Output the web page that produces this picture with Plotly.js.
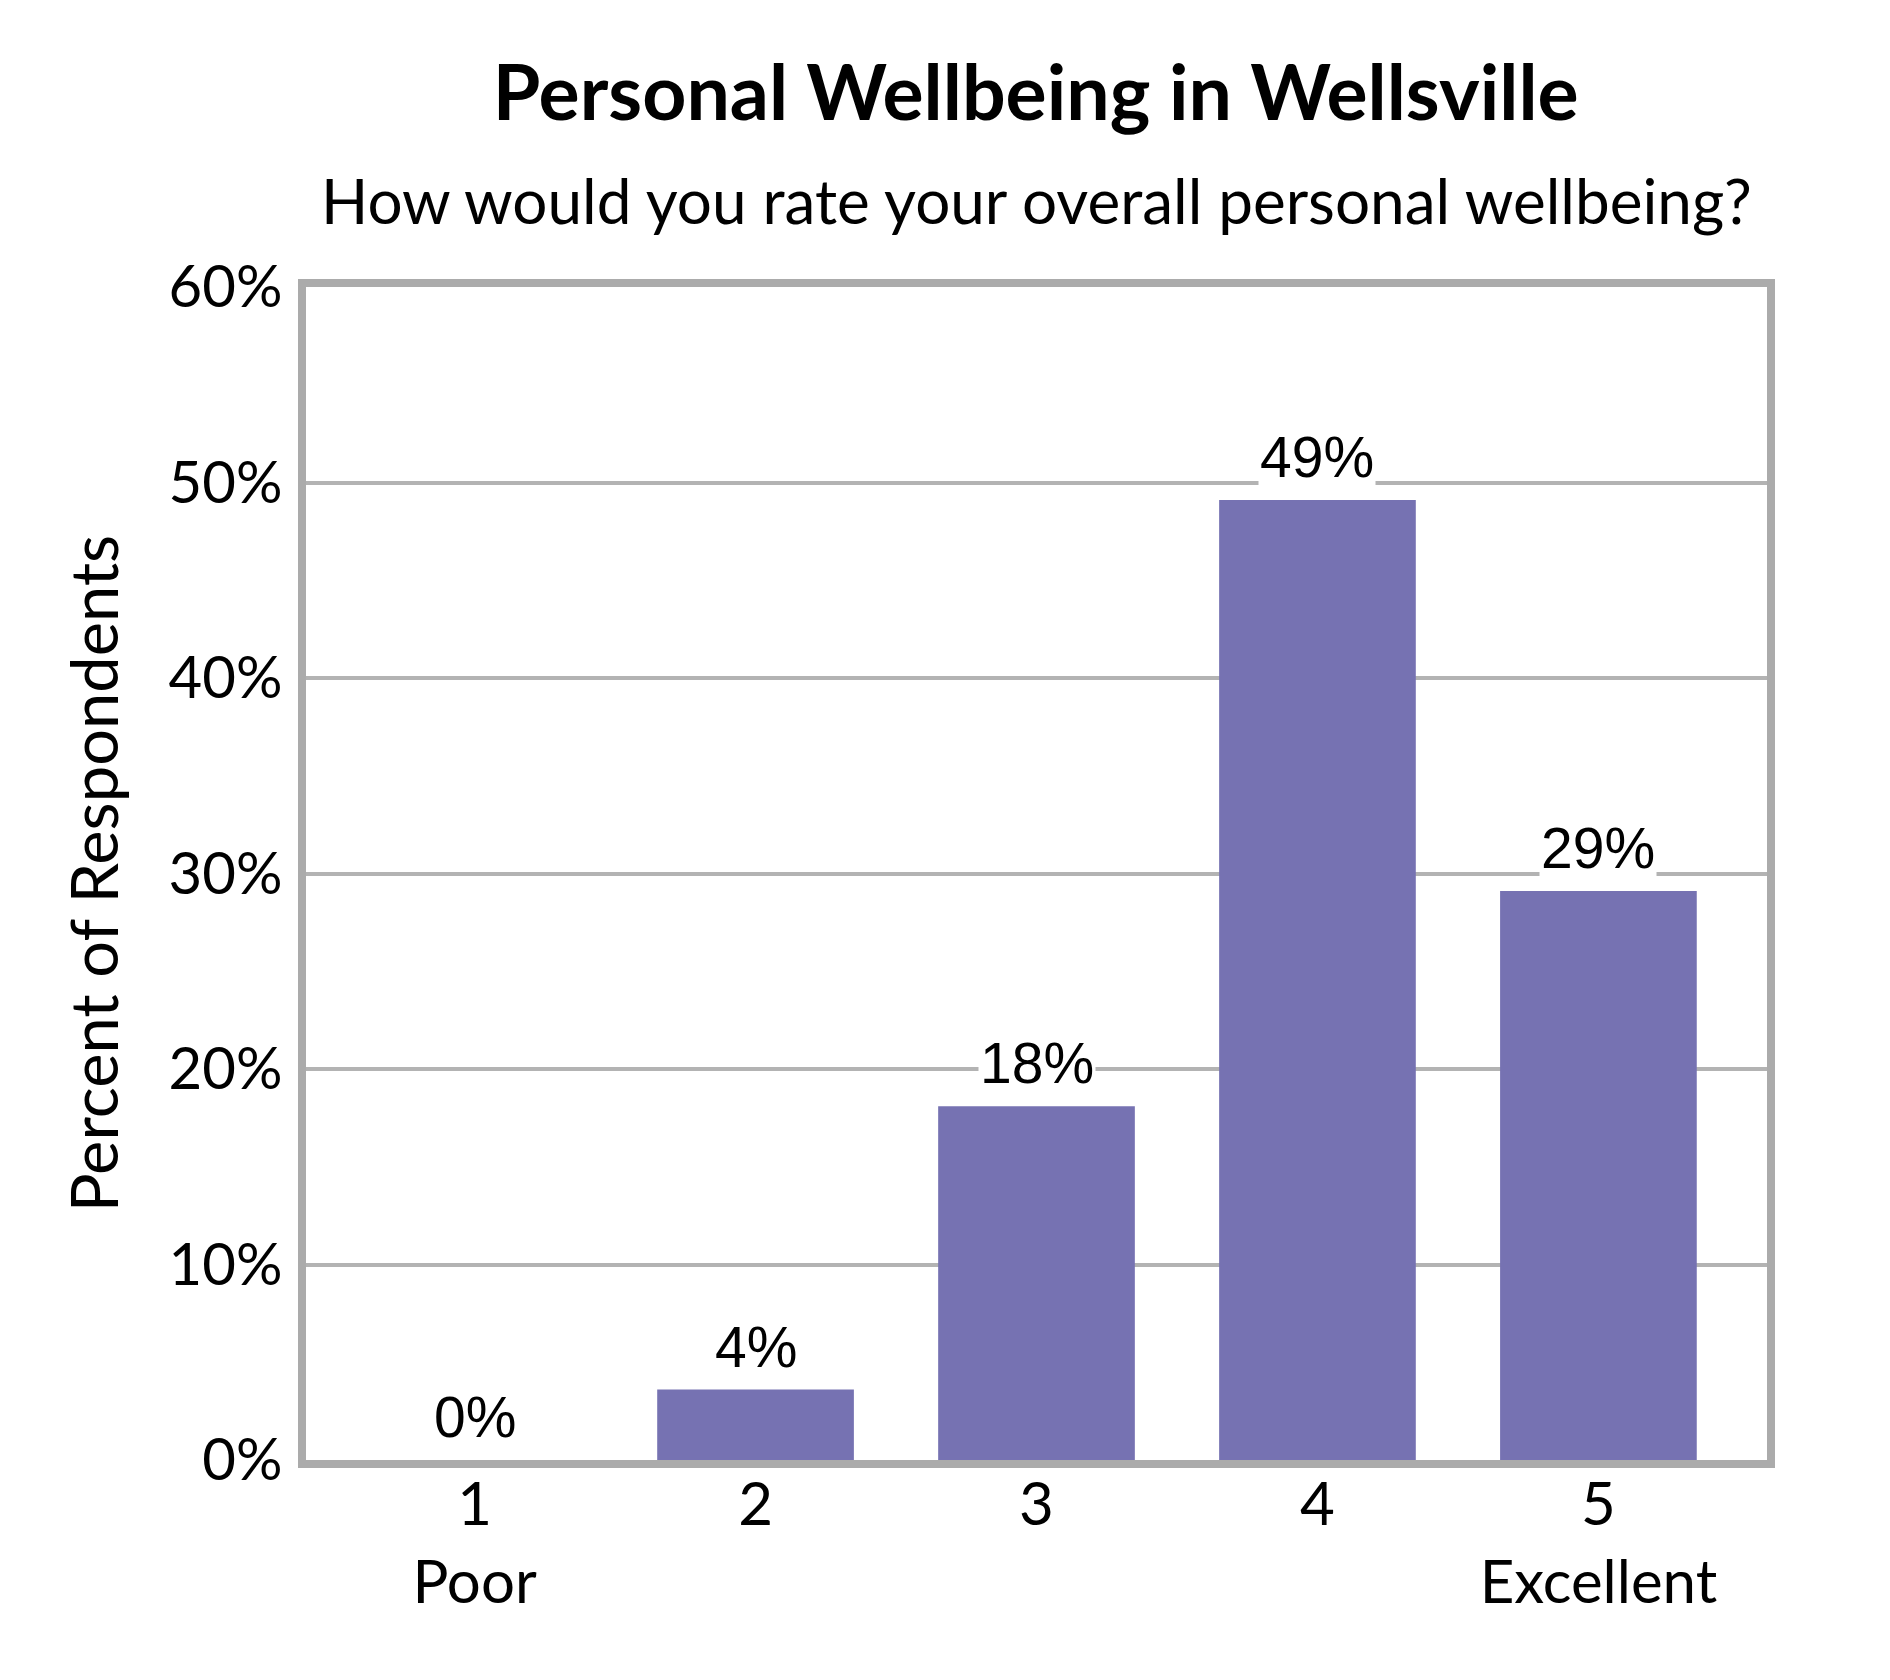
<!DOCTYPE html>
<html>
<head>
<meta charset="utf-8">
<script src="https://cdn.plot.ly/plotly-3.0.1.min.js"></script>
<style>
  html, body { margin: 0; padding: 0; background: #fff; }
  #chart { width: 1890px; height: 1680px; }
</style>
</head>
<body>
<div id="chart"></div>
<script>
// Survey answers on a 1-5 scale
const categories = ['1', '2', '3', '4', '5'];
const tickLabels = ['1<br>Poor', '2', '3', '4', '5<br>Excellent'];
const percents = [0, 3.6, 18.1, 49.1, 29.1];
const percentLabels = ['0%', '4%', '18%', '49%', '29%'];

const BAR_COLOR = '#7672B2';
const FRAME = '#ababab';
const GRID = '#b3b3b3';
const FONT = 'Lato, "Open Sans", sans-serif';

const trace = {
  type: 'bar',
  x: categories,
  y: percents,
  marker: { color: BAR_COLOR, line: { width: 0 } },
  hoverinfo: 'skip',
};

// Value labels sit on a white box above each bar
// (x given as category index: numeric-looking names would be read as indices anyway)
const annotations = categories.map((c, i) => ({
  x: i,
  y: percents[i],
  xref: 'x',
  yref: 'y',
  text: percentLabels[i],
  showarrow: false,
  yanchor: 'bottom',
  yshift: 9,
  bgcolor: '#ffffff',
  borderpad: 1,
  font: { family: '"Liberation Sans", Arial, sans-serif', size: 57, color: '#000' },
}));

annotations.push({
  xref: 'paper',
  yref: 'paper',
  x: 0.5,
  y: 1,
  yshift: 48,
  yanchor: 'bottom',
  showarrow: false,
  text: 'How would you rate your overall personal wellbeing?',
  font: { family: FONT, size: 62, color: '#000' },
});

const layout = {
  width: 1890,
  height: 1680,
  paper_bgcolor: '#ffffff',
  plot_bgcolor: '#ffffff',
  showlegend: false,
  bargap: 0.3,
  font: { family: FONT, size: 57, color: '#000' },
  margin: { t: 287, r: 123, b: 220, l: 306 },
  title: {
    text: '<b>Personal Wellbeing in Wellsville</b>',
    font: { family: FONT, size: 77, color: '#000' },
    x: 0.548,
    xanchor: 'center',
    yref: 'container',
    y: 1 - 66 / 1680,
    yanchor: 'top',
  },
  xaxis: {
    type: 'category',
    range: [-0.6, 4.6],
    tickvals: categories,
    ticktext: tickLabels,
    showgrid: false,
    showline: true,
    mirror: true,
    linewidth: 8,
    linecolor: FRAME,
    ticks: '',
    ticklabelstandoff: -15,
    tickfont: { family: FONT, size: 60, color: '#000' },
    fixedrange: true,
  },
  yaxis: {
    range: [0, 60],
    dtick: 10,
    ticksuffix: '%',
    showgrid: true,
    gridcolor: GRID,
    gridwidth: 4,
    zeroline: false,
    showline: true,
    mirror: true,
    linewidth: 8,
    linecolor: FRAME,
    ticks: '',
    ticklabelstandoff: 4,
    tickfont: { family: FONT, size: 58, color: '#000' },
    title: {
      text: 'Percent of Respondents',
      font: { family: FONT, size: 65, color: '#000' },
      standoff: 32,
    },
    fixedrange: true,
  },
  annotations,
};

Plotly.newPlot('chart', [trace], layout, { displayModeBar: false, staticPlot: true });
</script>
</body>
</html>
